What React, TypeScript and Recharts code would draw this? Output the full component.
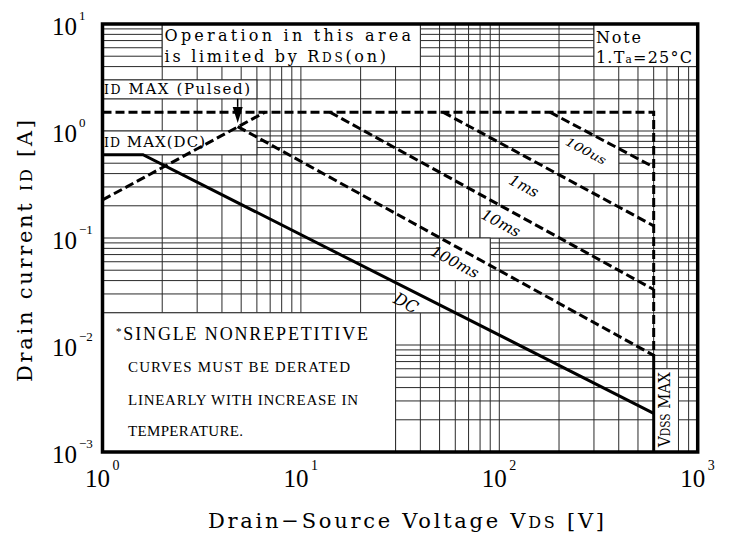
import React from 'react';
import {
  LineChart,
  Line,
  XAxis,
  YAxis,
  CartesianGrid,
  ReferenceArea,
  ReferenceLine,
  ReferenceDot,
} from 'recharts';

// ---------- axis ticks ----------
const xGridTicks = [1, 2, 3, 4, 5, 6, 7, 8, 9, 10, 20, 30, 40, 50, 60, 70, 80, 90, 100, 200, 300, 400, 500, 600, 700, 800, 900, 1000];
const yGridTicks = [
  0.001, 0.002, 0.003, 0.004, 0.005, 0.006, 0.007, 0.008, 0.009,
  0.01, 0.02, 0.03, 0.04, 0.05, 0.06, 0.07, 0.08, 0.09,
  0.1, 0.2, 0.3, 0.4, 0.5, 0.6, 0.7, 0.8, 0.9,
  1, 2, 3, 4, 5, 6, 7, 8, 9, 10,
];
const xLabelTicks = [1, 10, 100, 1000];
const xLabelExponents = ['0', '1', '2', '3'];
const yLabelTicks = [0.001, 0.01, 0.1, 1, 10];
const yLabelExponents = ['\u22123', '\u22122', '\u22121', '0', '1'];

// ---------- series (VDS [V], ID [A]) ----------
const pulsedLimit = [{ v: 1, i: 1.5 }, { v: 600, i: 1.5 }, { v: 600, i: 0.008 }];
const vdssLimit = [{ v: 600, i: 0.008 }, { v: 600, i: 0.001 }];
const rdsLimit = [{ v: 1, i: 0.227 }, { v: 6.6, i: 1.5 }];
const pulse100us = [{ v: 180, i: 1.5 }, { v: 600, i: 0.46 }];
const pulse1ms = [{ v: 52, i: 1.5 }, { v: 600, i: 0.13 }];
const pulse10ms = [{ v: 14, i: 1.5 }, { v: 600, i: 0.033 }];
const pulse100ms = [{ v: 4.8, i: 1.1 }, { v: 600, i: 0.008 }];
const dcLimit = [{ v: 1, i: 0.6 }, { v: 1.6, i: 0.6 }, { v: 600, i: 0.0023 }];

// arrow marking the pulsed-current label
const arrowV = 4.8;
const arrowTop = 2;
const arrowHeadTop = 1.68;
const arrowTip = 1.19;

const gridStroke = '#2a2a2a';
const serif = "'DejaVu Serif', serif";
const times = "'Liberation Serif', serif";

const matchIndex = (list: number[], v: number) =>
  list.findIndex((t) => Math.abs(Math.log10(t) - Math.log10(v)) < 1e-6);

const XTick = (props: any) => {
  const { x, payload } = props;
  const k = matchIndex(xLabelTicks, payload.value);
  if (k < 0) return <g />;
  return (
    <g>
      <text x={x - 5} y={479} textAnchor="middle" fontFamily={times} fontSize={25} fill="#000">10</text>
      <text x={x + 10} y={462} fontFamily={times} fontSize={14} fill="#000">{xLabelExponents[k]}</text>
    </g>
  );
};

const YTick = (props: any) => {
  const { y, payload } = props;
  const k = matchIndex(yLabelTicks, payload.value);
  if (k < 0) return <g />;
  return (
    <g>
      <text x={69} y={y + 11} textAnchor="end" fontFamily={times} fontSize={25} fill="#000">10</text>
      <text x={71} y={y - 4.5} fontFamily={times} fontSize={13} fill="#000">{yLabelExponents[k]}</text>
    </g>
  );
};

const YTitle = () => (
  <text
    x={24}
    y={243}
    transform="rotate(-90 24 243)"
    textAnchor="middle"
    fontFamily={serif}
    fontSize={21}
    textLength={262}
    lengthAdjust="spacing"
    fill="#000"
  >
    Drain current <tspan fontSize={16}>ID</tspan> [A]
  </text>
);

const XTitle = () => (
  <text
    x={398}
    y={520}
    textAnchor="middle"
    fontFamily={serif}
    fontSize={21}
    textLength={396}
    lengthAdjust="spacing"
    fill="#000"
  >
    Drain{'\u2212'}Source Voltage V<tspan fontSize={16}>DS</tspan> [V]
  </text>
);

type BoxContent = (x: number, y: number, w: number, h: number) => React.ReactNode;
const boxShape = (content: BoxContent) => (p: any) => (
  <g>
    <rect x={p.x} y={p.y} width={p.width} height={p.height} fill="#fff" stroke={gridStroke} strokeWidth={1} />
    {content(p.x, p.y, p.width, p.height)}
  </g>
);

const slantLabel = (text: string, ox: number, oy: number, size: number, len: number) =>
  boxShape((x, y) => (
    <text
      x={x + ox}
      y={y + oy}
      dy="0.35em"
      transform={`rotate(28 ${x + ox} ${y + oy})`}
      textAnchor="middle"
      fontFamily={serif}
      fontStyle="italic"
      fontSize={size}
      textLength={len}
      lengthAdjust="spacingAndGlyphs"
      fill="#000"
    >
      {text}
    </text>
  ));

const operationBox = boxShape((x, y) => (
  <g fontFamily={serif} fontSize={16} fill="#000">
    <text x={x + 2.3} y={y + 17} textLength={246.5} lengthAdjust="spacing">Operation in this area</text>
    <text x={x + 2.3} y={y + 38} textLength={221.5} lengthAdjust="spacing">
      is limited by R<tspan fontSize={12}>DS</tspan>(on)
    </text>
  </g>
));

const noteBox = boxShape((x, y) => (
  <g fontFamily={serif} fontSize={16} fill="#000">
    <text x={x + 2} y={y + 19} textLength={45} lengthAdjust="spacing">Note</text>
    <text x={x + 2} y={y + 39} textLength={96} lengthAdjust="spacing">
      1.T<tspan fontSize={10.5}>a</tspan>=25°C
    </text>
  </g>
));

const pulsedBox = boxShape((x, y) => (
  <text x={x + 1.5} y={y + 14.1} fontFamily={serif} fontSize={15} textLength={146} lengthAdjust="spacing" fill="#000">
    <tspan fontSize={12.5}>ID</tspan> MAX (Pulsed)
  </text>
));

const dcMaxBox = boxShape((x, y) => (
  <text x={x + 1.5} y={y + 16} fontFamily={serif} fontSize={15} textLength={101} lengthAdjust="spacing" fill="#000">
    <tspan fontSize={12.5}>ID</tspan> MAX(DC)
  </text>
));

const deratingBox = boxShape((x, y) => (
  <g fontFamily={times} fill="#000">
    <text x={x + 13.5} y={y + 27.2} fontSize={18} textLength={252} lengthAdjust="spacing">
      <tspan fontSize={11} dy={-5}>*</tspan><tspan dy={5}>SINGLE NONREPETITIVE</tspan>
    </text>
    <text x={x + 25.5} y={y + 59.2} fontSize={15} textLength={222} lengthAdjust="spacing">CURVES MUST BE DERATED</text>
    <text x={x + 25.5} y={y + 92.2} fontSize={15} textLength={230} lengthAdjust="spacing">LINEARLY WITH INCREASE IN</text>
    <text x={x + 25.5} y={y + 123.2} fontSize={15} textLength={115} lengthAdjust="spacing">TEMPERATURE.</text>
  </g>
));

const vdssBox = boxShape((x, y) => (
  <text
    x={x + 10.2}
    y={y + 40.8}
    dy="0.35em"
    transform={`rotate(-90 ${x + 10.2} ${y + 40.8})`}
    textAnchor="middle"
    fontFamily={serif}
    fontSize={17}
    textLength={75}
    lengthAdjust="spacingAndGlyphs"
    fill="#000"
  >
    V<tspan fontSize={12}>DSS</tspan> MAX
  </text>
));

const arrowHead = (p: any) => (
  <path d={`M${p.cx - 5},${p.cy - 16} L${p.cx + 5},${p.cy - 16} L${p.cx},${p.cy} Z`} fill="#000" />
);

const dashed = '9 4';

export default function App() {
  return (
    <div style={{ width: 714, height: 527 }}>
      <style>{'body{margin:8px 8px 0 8px}'}</style>
      <LineChart width={714} height={527} margin={{ top: 16, right: 24.3, left: 0, bottom: 0 }}>
        <CartesianGrid stroke={gridStroke} strokeWidth={1} />
        <XAxis
          dataKey="v"
          type="number"
          scale="log"
          domain={[1, 1000]}
          ticks={xGridTicks}
          interval={0}
          allowDataOverflow
          axisLine={false}
          tickLine={false}
          tick={<XTick />}
          height={83}
          label={<XTitle />}
        />
        <YAxis
          type="number"
          scale="log"
          domain={[0.001, 10]}
          ticks={yGridTicks}
          interval={0}
          allowDataOverflow
          axisLine={false}
          tickLine={false}
          tick={<YTick />}
          width={94.5}
          label={<YTitle />}
        />

        <ReferenceArea x1={2} x2={40} y1={4} y2={10} shape={operationBox} ifOverflow="visible" />
        <ReferenceArea x1={300} x2={1000} y1={4} y2={10} shape={noteBox} ifOverflow="visible" />
        <ReferenceArea x1={1} x2={6} y1={2} y2={3} shape={pulsedBox} ifOverflow="visible" />
        <ReferenceArea x1={1} x2={6} y1={0.6} y2={1} shape={dcMaxBox} ifOverflow="visible" />
        <ReferenceArea x1={1} x2={30} y1={0.001} y2={0.02} shape={deratingBox} ifOverflow="visible" />
        <ReferenceArea x1={200} x2={400} y1={0.4} y2={0.9} shape={slantLabel('100us', 27, 15, 12, 44)} ifOverflow="visible" />
        <ReferenceArea x1={100} x2={200} y1={0.2} y2={0.4} shape={slantLabel('1ms', 24.7, 12.4, 15, 31)} ifOverflow="visible" />
        <ReferenceArea x1={80} x2={200} y1={0.1} y2={0.2} shape={slantLabel('10ms', 20.9, 17.2, 15, 42)} ifOverflow="visible" />
        <ReferenceArea x1={50} x2={90} y1={0.04} y2={0.1} shape={slantLabel('100ms', 15.4, 24, 15, 52)} ifOverflow="visible" />
        <ReferenceArea x1={30} x2={50} y1={0.02} y2={0.04} shape={slantLabel('DC', 10.4, 22.4, 17, 25)} ifOverflow="visible" />
        <ReferenceArea x1={600} x2={800} y1={0.001} y2={0.006} shape={vdssBox} ifOverflow="visible" />

        <Line data={pulsedLimit} dataKey="i" type="linear" stroke="#000" strokeWidth={3} strokeDasharray={dashed} dot={false} activeDot={false} isAnimationActive={false} />
        <Line data={vdssLimit} dataKey="i" type="linear" stroke="#000" strokeWidth={3} dot={false} activeDot={false} isAnimationActive={false} />
        <Line data={rdsLimit} dataKey="i" type="linear" stroke="#000" strokeWidth={3} strokeDasharray={dashed} dot={false} activeDot={false} isAnimationActive={false} />
        <Line data={pulse100us} dataKey="i" type="linear" stroke="#000" strokeWidth={3} strokeDasharray={dashed} dot={false} activeDot={false} isAnimationActive={false} />
        <Line data={pulse1ms} dataKey="i" type="linear" stroke="#000" strokeWidth={3} strokeDasharray={dashed} dot={false} activeDot={false} isAnimationActive={false} />
        <Line data={pulse10ms} dataKey="i" type="linear" stroke="#000" strokeWidth={3} strokeDasharray={dashed} dot={false} activeDot={false} isAnimationActive={false} />
        <Line data={pulse100ms} dataKey="i" type="linear" stroke="#000" strokeWidth={3} strokeDasharray={dashed} dot={false} activeDot={false} isAnimationActive={false} />
        <Line data={dcLimit} dataKey="i" type="linear" stroke="#000" strokeWidth={3} dot={false} activeDot={false} isAnimationActive={false} />

        <ReferenceLine segment={[{ x: arrowV, y: arrowTop }, { x: arrowV, y: arrowHeadTop }]} stroke="#000" strokeWidth={1.5} ifOverflow="visible" />
        <ReferenceDot x={arrowV} y={arrowTip} r={0} shape={arrowHead} ifOverflow="visible" />

        <ReferenceArea x1={1} x2={1000} y1={0.001} y2={10} fill="none" fillOpacity={0} stroke="#000" strokeWidth={3.5} ifOverflow="visible" />
      </LineChart>
    </div>
  );
}
